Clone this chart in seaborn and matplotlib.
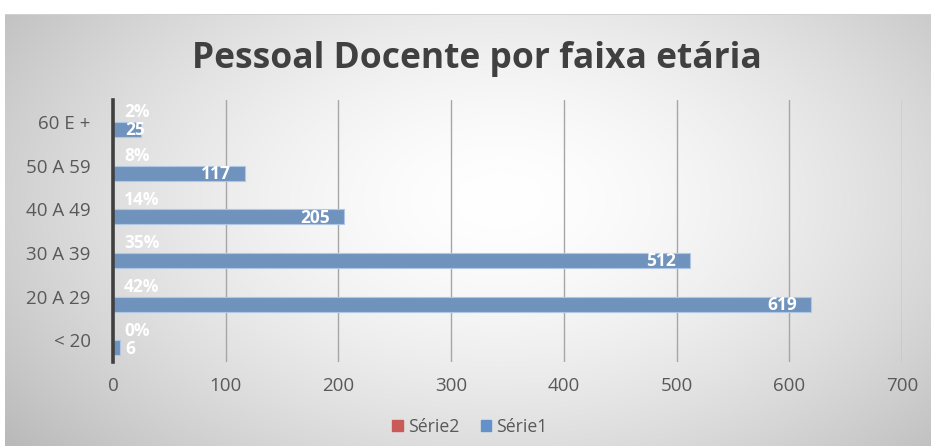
import numpy as np
import pandas as pd
import matplotlib
matplotlib.use('Agg')
import matplotlib.pyplot as plt
import seaborn as sns
from matplotlib.patches import Patch

# data
categorias = ['60 E +', '50 A 59', '40 A 49', '30 A 39', '20 A 29', '< 20']
serie1 = [25, 117, 205, 512, 619, 6]
serie2 = [0.02, 0.08, 0.14, 0.35, 0.42, 0.00]
xticks = [0, 100, 200, 300, 400, 500, 600, 700]

df = pd.DataFrame({
    'Faixa': categorias * 2,
    'Serie': ['Série2'] * len(categorias) + ['Série1'] * len(categorias),
    'Valor': serie2 + serie1,
})

sns.set_theme(style='white')
plt.rcParams['font.family'] = ['Open Sans', 'DejaVu Sans']

W, H = 931, 446
fig = plt.figure(figsize=(W / 100, H / 100), dpi=100)

# radial grey gradient like the Excel chart area
bg = fig.add_axes([0, 0, 1, 1], zorder=-10)
yy, xx = np.mgrid[0:H, 0:W]
r = np.sqrt(((xx - 500) / 520.0) ** 2 + ((yy - 200) / 320.0) ** 2)
g = np.clip(1 - 0.2 * r ** 1.6, 0, 1)
img = np.dstack([g, g, g])
img[:14, :] = 1
img[:, :5] = 1
img[14, 5:] = 0.82
bg.imshow(img, aspect='auto', interpolation='bilinear')
bg.axis('off')

ax = fig.add_axes([113 / W, 84 / H, 789 / W, 262 / H])
ax.patch.set_alpha(0)

azul = '#6392CA'
vermelho = '#C95A58'
sns.barplot(data=df, y='Faixa', x='Valor', hue='Serie', order=categorias,
            hue_order=['Série2', 'Série1'],
            palette={'Série2': vermelho, 'Série1': azul},
            width=0.69, orient='h', ax=ax, linewidth=0, legend=False,
            errorbar=None)

for p in ax.containers[1]:
    p.set_edgecolor('#AFC6E4')
    p.set_linewidth(0.8)

ax.set_xlim(0, 700)
ax.set_ylim(5.5, -0.5)
ax.set_xticks(xticks)
ax.set_xlabel('')
ax.set_ylabel('')
ax.tick_params(axis='both', length=0, labelsize=13.5, labelcolor='#595959')
ax.tick_params(axis='y', pad=16)
ax.tick_params(axis='x', pad=11)
for s in ['top', 'right', 'bottom']:
    ax.spines[s].set_visible(False)
ax.spines['left'].set_color('#404040')
ax.spines['left'].set_linewidth(2.6)
ax.xaxis.grid(True, color='#A6A6A6', linewidth=1)
ax.set_axisbelow(True)

lbl = dict(color='white', fontsize=12.5, fontweight='bold', va='center',
           textcoords='offset pixels')
for p, v in zip(ax.containers[0], serie2):
    y = p.get_y() + p.get_height() / 2
    ax.annotate(f'{v:.0%}', xy=(0, y), xytext=(11, 2), ha='left', **lbl)
for p, v in zip(ax.containers[1], serie1):
    y = p.get_y() + p.get_height() / 2
    if v > 40:
        ax.annotate(f'{v}', xy=(v, y), xytext=(-14, -1), ha='right', **lbl)
    else:
        ax.annotate(f'{v}', xy=(0, y), xytext=(12, -1), ha='left', **lbl)

fig.text(477 / W, 1 - 68 / H, 'Pessoal Docente por faixa etária',
         ha='center', va='baseline', fontsize=25.5, fontweight='bold',
         color='#404040')

handles = [Patch(color=vermelho, label='Série2'),
           Patch(color=azul, label='Série1')]
fig.legend(handles=handles, loc='center', bbox_to_anchor=(470 / W, 1 - 427 / H),
           ncol=2, frameon=False, fontsize=12.7, labelcolor='#595959',
           handlelength=0.6, handleheight=0.6, handletextpad=0.3,
           columnspacing=1.2)

fig.savefig('out.png', dpi=100)
